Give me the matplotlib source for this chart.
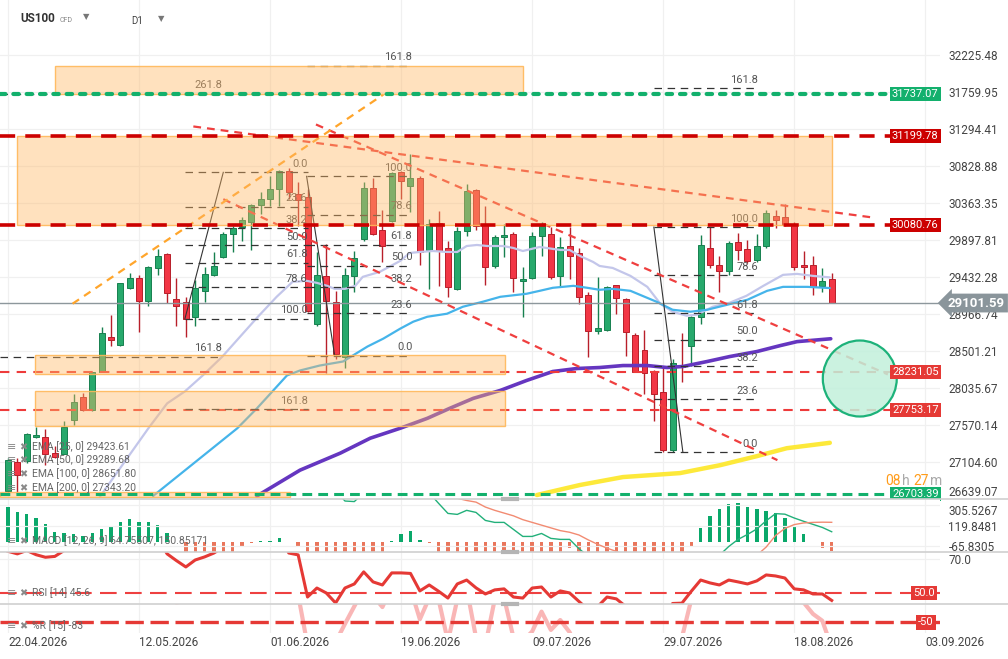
import numpy as np
import matplotlib
matplotlib.use("Agg")
import matplotlib.pyplot as plt
import matplotlib.transforms as mtransforms
from matplotlib.patches import Rectangle, Ellipse
from matplotlib.lines import Line2D

plt.rcParams['font.family'] = ['Roboto', 'DejaVu Sans']

# ---------------- data ----------------
date_labels = ['22.04.2026', '12.05.2026', '01.06.2026', '19.06.2026',
               '09.07.2026', '29.07.2026', '18.08.2026', '03.09.2026']
date_pos = [0, 14, 28, 42, 56, 70, 84, 98]

open_ = [26737, 27100, 27113, 27413, 27413, 27213, 27200, 27626, 27914, 27752,
         28240, 28679, 28579, 29293, 29418, 29130, 29543, 29719, 29155, 29117,
         28929, 29255, 29456, 29681, 29969, 30057, 30120, 30333, 30408, 30533,
         30759, 30471, 30433, 28842, 29443, 29117, 28428, 29443, 29907, 30546,
         30020, 30132, 30746, 30571, 30671, 29769, 30107, 29794, 29280, 30007,
         30521, 30095, 29568, 29932, 29969, 29381, 29418, 29944, 29969, 29443,
         29819, 29731, 29205, 28754, 28767, 29330, 29155, 28704, 28516, 28228,
         27977, 27250, 28328, 28566, 28929, 29794, 29581, 29506, 29869, 29781,
         29644, 29819, 30195, 30182, 30082, 29581, 29581, 29318, 29406]
high = [27150, 27150, 27463, 27539, 27514, 27301, 27614, 27952, 27965, 28240,
        28804, 28955, 29355, 29481, 29456, 29568, 29781, 29731, 29418, 29180,
        29393, 29556, 29744, 29994, 30070, 30182, 30345, 30496, 30696, 30771,
        30796, 30621, 30533, 29744, 29844, 29255, 29543, 29756, 30621, 30671,
        30270, 30746, 30759, 30972, 30696, 30157, 30258, 29882, 30057, 30596,
        30533, 30320, 29957, 30095, 29994, 29556, 29994, 30120, 30057, 29932,
        30057, 29794, 29243, 29431, 29318, 29330, 29168, 28729, 28767, 28253,
        28315, 28403, 28729, 28942, 29957, 30057, 29694, 29882, 29982, 29894,
        29969, 30270, 30270, 30345, 30120, 29756, 29694, 29543, 29481]
low = [26712, 26712, 27088, 27401, 27062, 27150, 27200, 27564, 27739, 27739,
       28228, 28566, 28566, 29280, 28741, 29067, 29456, 29105, 28817, 28679,
       28817, 29117, 29443, 29669, 29744, 29882, 29769, 30220, 30320, 30320,
       30408, 30070, 28992, 28817, 28215, 28403, 28278, 29243, 29882, 29957,
       29619, 30120, 30408, 30245, 29581, 29280, 29318, 29180, 29268, 29944,
       30020, 29330, 29543, 29681, 29243, 28929, 29406, 29694, 29406, 29318,
       29406, 29092, 28428, 28716, 28754, 28967, 28441, 28228, 27952, 27614,
       27225, 27225, 28102, 28315, 28842, 29543, 29243, 29456, 29644, 29606,
       29619, 29794, 30045, 30070, 29518, 29406, 29205, 29243, 29101.59]
close = [27125, 26937, 27451, 27438, 27200, 27163, 27539, 27852, 27752, 28228,
         28729, 28641, 29355, 29418, 29130, 29556, 29694, 29230, 29067, 28904,
         29293, 29468, 29568, 29969, 30045, 30145, 30333, 30408, 30533, 30759,
         30496, 30395, 29005, 29456, 29130, 28466, 29456, 29669, 30546, 29969,
         29819, 30734, 30634, 30671, 29744, 30095, 29756, 29305, 30007, 30508,
         30070, 29556, 29932, 29957, 29418, 29406, 29944, 30070, 29431, 29807,
         29694, 29180, 28754, 28792, 29305, 29168, 28741, 28240, 28215, 27952,
         27250, 28353, 28303, 28929, 29832, 29581, 29506, 29857, 29769, 29631,
         29819, 30233, 30145, 30082, 29556, 29556, 29305, 29381, 29101.59]

ema25_x = [9.8, 15.0, 17.0, 18.9, 20.8, 22.9, 24.8, 26.7, 28.7, 30.4,
           31.9, 33.0, 34.1, 34.9, 36.0, 37.1, 37.9, 39.7, 41.9, 42.9,
           44.0, 45.4, 46.9, 48.0, 49.0, 50.1, 51.2, 52.9, 54.0, 55.0,
           56.8, 59.0, 60.0, 61.1, 62.5, 63.2, 64.6, 66.5, 68.3, 69.7,
           71.0, 72.5, 73.6, 75.3, 77.1, 78.9, 80.7, 82.8, 84.3, 86.0, 87.8]
ema25_y = [26662, 27526, 27839, 27990, 28190, 28428, 28679, 28929, 29180, 29368,
           29381, 29355, 29318, 29280, 29280, 29318, 29431, 29493, 29631, 29731,
           29744, 29756, 29744, 29744, 29819, 29832, 29819, 29819, 29794, 29756,
           29807, 29769, 29769, 29694, 29619, 29568, 29543, 29443, 29305, 29092,
           28992, 28942, 28955, 29055, 29105, 29193, 29318, 29456, 29468, 29443, 29424]
ema50_x = [15.5, 24.5, 26.6, 29.8, 31.2, 33.3, 35.8, 38.4, 40.1, 41.9,
           43.3, 44.8, 46.9, 48.6, 50.7, 52.6, 55.4, 56.8, 58.2, 60.4,
           61.9, 63.2, 64.6, 66.5, 69.3, 71.0, 72.9, 74.7, 76.4, 79.0,
           81.1, 82.8, 85.4, 87.8]
ema50_y = [26674, 27526, 27777, 28190, 28253, 28315, 28366, 28554, 28654, 28779,
           28867, 28929, 28967, 29055, 29117, 29180, 29218, 29255, 29293, 29318,
           29293, 29268, 29280, 29255, 29117, 29017, 28992, 29017, 29067, 29143,
           29255, 29305, 29305, 29290]
ema100_x = [26.6, 31.2, 35.5, 38.7, 41.9, 44.8, 47.2, 49.7, 52.6, 55.4, 58.2, 60.8,
            63.2, 65.7, 68.3, 70.4, 72.1, 74.7, 77.1, 80.0, 82.5, 84.3, 86.8, 87.9]
ema100_y = [26674, 26999, 27213, 27401, 27526, 27651, 27777, 27902, 28002, 28127, 28240, 28278,
            28290, 28315, 28315, 28290, 28303, 28366, 28428, 28491, 28566, 28616, 28641, 28652]
ema200_x = [56.5, 61.1, 65.7, 71.8, 76.1, 80.0, 83.2, 87.8]
ema200_y = [26686, 26812, 26912, 26962, 27062, 27175, 27275, 27343]

macd_line = [820, 800, 790, 780, 760, 740, 730, 730, 740, 760,
             790, 820, 860, 900, 930, 950, 960, 950, 920, 880,
             850, 830, 820, 815, 810, 810, 815, 820, 830, 840,
             830, 800, 700, 620, 540, 440, 345, 340, 420, 450,
             470, 500, 520, 530, 470, 420, 324, 232, 223, 260,
             241, 168, 150, 150, 86, 22, 22, 49, 4, -5,
             -5, -90, -160, -220, -270, -320, -360, -400, -440, -470,
             -500, -460, -420, -390, -330, -230, -150, -70, -5, 40,
             90, 165, 230, 225, 190, 160, 132, 104, 64.76]
macd_signal = [500, 520, 540, 560, 590, 620, 640, 660, 680, 690,
               700, 710, 720, 730, 750, 770, 790, 800, 810, 820,
               830, 830, 830, 830, 830, 830, 830, 830, 830, 830,
               830, 825, 810, 790, 760, 720, 670, 620, 580, 550,
               520, 500, 480, 460, 440, 430, 410, 390, 370, 350,
               335, 290, 260, 235, 210, 175, 150, 125, 100, 75,
               60, 35, -10, -50, -85, -115, -150, -190, -230, -270,
               -310, -340, -350, -350, -340, -320, -290, -250, -210, -180,
               -150, -75, 30, 95, 130, 145, 150, 152, 150.85]
macd_hist = [317, 272, 253, 217, 162, 89, 80, 70, 52, 80,
             116, 134, 180, 208, 180, 180, 153, 80, -2, -150,
             -170, -190, -200, -180, -130, -48, -9, 2, 9, 34,
             -3, -48, -150, -220, -260, -280, -270, -240, -200, -160,
             -120, 9, 70, 98, 16, -12, -140, -180, -190, -185,
             -180, -170, -150, -140, -130, -140, -130, -110, -100, -90,
             -60, -120, -170, -200, -220, -230, -240, -250, -250, -240,
             -230, -180, -120, -46, 125, 235, 299, 345, 354, 317,
             299, 281, 263, 217, 134, 70, -3, -58, -86]
rsi = [74.5, 73, 75, 72.5, 71, 71.5, 75, 78, 76, 80,
       84, 80, 85, 84, 79, 82, 82, 73, 69, 65.3,
       69.4, 71.2, 73.5, 77, 78, 79, 81, 81, 82, 83,
       73.5, 72.4, 47.6, 52.9, 50, 44.1, 52.9, 55.3, 62.4, 56.5,
       54.7, 61.8, 61.8, 61.5, 51.2, 54.7, 51, 47, 55.3, 57.6,
       53, 49.4, 51.8, 52.4, 47.6, 47, 52.9, 53.5, 47.6, 51.2,
       50, 45, 40, 42, 47.6, 46.5, 42, 36, 34, 31,
       28, 43.8, 44, 51, 57.6, 55.9, 54.7, 57.6, 56.5, 55.3,
       57.1, 60.6, 60, 58.8, 52.4, 51.8, 49.4, 49.4, 45.6]
williams_r = [-10, -22, -8, -10, -20, -22, -12, -8, -15, -5,
              -6, -12, -3, -5, -18, -6, -5, -20, -24, -22,
              -14, -10, -8, -4, -5, -4, -3, -4, -5, -3,
              -12, -14, -80, -70, -72, -76, -52, -29, -6, -15,
              -30, -3, -8, -6, -46, -18, -20, -75, -20, -5,
              -70, -80, -20, -18, -70, -75, -62, -36, -60, -47,
              -63, -90, -100, -85, -78, -80, -95, -98, -95, -98,
              -100, -70, -70, -20, -5, -18, -22, -10, -12, -18,
              -10, -3, -5, -8, -22, -24, -39, -48, -83]

price_ticks = [32225.48, 31759.95, 31294.41, 30828.88, 30363.35, 29897.81, 29432.28,
               28966.74, 28501.21, 28035.67, 27570.14, 27104.60, 26639.07]
macd_ticks = [305.5267, 119.8481, -65.8305]

level_green_top = 31737.07
level_red_upper = 31199.78
level_red_lower = 30080.76
level_red_thin1 = 28231.05
level_red_thin2 = 27753.17
level_green_bottom = 26703.39
last_price = 29101.59

zone_x0 = [5.0, 0.96, 2.9, 2.9, -0.85]
zone_x1 = [55.0, 88.0, 53.1, 53.1, 30.1]
zone_lo = [31737.07, 30080.76, 28203, 27551, 26662]
zone_hi = [32087, 31199.78, 28453, 27990, 26724]

trend_x0 = [19.8, 32.9, 23.0]
trend_p0 = [31323, 31348, 30408]
trend_x1 = [92.1, 94.0, 82.2]
trend_p1 = [30182, 28203, 27125]
orange_x = [6.9, 40.1]
orange_p = [29093, 31724]

fib_ratios = [0.0, 23.6, 38.2, 50.0, 61.8, 78.6, 100.0, 161.8]
fib_start = [18.9, 31.9, 69.0]
fib_end = [32.0, 43.2, 80.1]
fib_p0 = [30750, 28441, 27225]
fib_p100 = [28904, 30696, 30057]
fib_anchor_x = [(18.9, 23.0), (31.9, 34.9), (69.0, 72.1)]
fib_anchor_p = [(28904, 30746), (30696, 28441), (30057, 27225)]
fib0_ratios = [161.8, 261.8]
fib0_levels = [28428, 31737]
fib0_end = 22.9

circle_center = (91.0, 28152)
circle_w, circle_h = 7.9, 956

# ---------------- figure ----------------
W, H = 1008, 659
fig = plt.figure(figsize=(W / 100, H / 100), dpi=100)
PLOT_W = 940


def rect(top, bottom):
    return [0, 1 - bottom / H, PLOT_W / W, (bottom - top) / H]


ax = fig.add_axes(rect(0, 499))
axm = fig.add_axes(rect(499, 552), sharex=ax)
axr = fig.add_axes(rect(552, 604), sharex=ax)
axw = fig.add_axes(rect(604, 633), sharex=ax)
axl = axm.twinx()

XMIN, XMAX = -0.855, 99.57
TXT = '#444444'
GRID = '#f0f0f0'

for a in (ax, axm, axr, axw, axl):
    for s in a.spines.values():
        s.set_visible(False)
    a.tick_params(axis='both', length=0, labelsize=8.5, colors=TXT)
    a.set_xlim(XMIN, XMAX)
for a in (ax, axm, axr, axw):
    a.set_xticks(date_pos)
    a.grid(True, axis='x', color=GRID, lw=0.9, zorder=0)
    a.set_axisbelow(True)
for a in (ax, axr, axw):
    a.yaxis.tick_right()
    a.tick_params(axis='y', pad=6)
axl.tick_params(axis='y', pad=6)
for a in (ax, axm, axr):
    a.tick_params(labelbottom=False)
axl.tick_params(labelbottom=False)

# ---- main panel ----
ax.set_ylim(26636, 32914)
ax.set_yticks(price_ticks)
ax.set_yticklabels([f'{v:.2f}' for v in price_ticks])
ax.get_yticklabels()[-1].set_verticalalignment('bottom')
ax.grid(True, axis='y', color=GRID, lw=0.9, zorder=0)

o = np.array(open_, float); h = np.array(high, float)
l = np.array(low, float); c = np.array(close, float)
idx = np.arange(len(c))
up = c >= o
GREEN, GREEN_E = '#27a96c', '#17804f'
RED, RED_E = '#f23645', '#b81f2a'
for mask, fcol, ecol in [(up, GREEN, GREEN_E), (~up, RED, RED_E)]:
    ax.vlines(idx[mask], l[mask], h[mask], color=ecol, lw=1.0, zorder=2)
    ax.bar(idx[mask], c[mask] - o[mask], bottom=o[mask], width=0.64,
           color=fcol, edgecolor=ecol, linewidth=0.7, zorder=3)

ax.plot(ema25_x, ema25_y, color='#c3c6ea', lw=1.6, zorder=4, solid_capstyle='round')
ax.plot(ema50_x, ema50_y, color='#45b4ea', lw=1.6, zorder=4, solid_capstyle='round')
ax.plot(ema100_x, ema100_y, color='#6536c0', lw=2.6, zorder=4, solid_capstyle='round')
ax.plot(ema200_x, ema200_y, color='#fde93a', lw=3.2, zorder=4, solid_capstyle='round')

ax.axhline(last_price, color='#8d979c', lw=1.0, zorder=4)
ax.axhline(level_red_thin1, color='#ee3b3b', lw=1.5, dashes=(4.5, 3.5), zorder=5)
ax.axhline(level_red_thin2, color='#ee3b3b', lw=1.5, dashes=(4.5, 3.5), zorder=5)

# fibonacci tools
for k in range(3):
    for r in fib_ratios:
        lv = fib_p0[k] + r / 100.0 * (fib_p100[k] - fib_p0[k])
        ax.plot([fib_start[k], fib_end[k]], [lv, lv], color='#333333', lw=0.9,
                dashes=(6, 4.5), zorder=5)
        ax.annotate(f'{r:.1f}', xy=(fib_end[k], lv), xytext=(0, 2.5),
                    textcoords='offset points', ha='right', va='bottom',
                    fontsize=8, color='#555555', zorder=5)
    ax.plot(fib_anchor_x[k], fib_anchor_p[k], color='#333333', lw=0.8, zorder=5)
for r, lv in zip(fib0_ratios, fib0_levels):
    ax.plot([XMIN, fib0_end], [lv, lv], color='#333333', lw=0.9, dashes=(6, 4.5), zorder=5)
    ax.annotate(f'{r:.1f}', xy=(fib0_end, lv), xytext=(0, 2.5),
                textcoords='offset points', ha='right', va='bottom',
                fontsize=8, color='#555555', zorder=5)

# trend lines
for x0, p0, x1, p1 in zip(trend_x0, trend_p0, trend_x1, trend_p1):
    ax.plot([x0, x1], [p0, p1], color='#ef3f3f', lw=1.6, dashes=(3.5, 2.7), zorder=5.5)
ax.plot(orange_x, orange_p, color='#ffa52b', lw=1.6, dashes=(3.5, 2.7), zorder=5.5)

# zones
for x0, x1, lo, hi in zip(zone_x0, zone_x1, zone_lo, zone_hi):
    ax.add_patch(Rectangle((x0, lo), x1 - x0, hi - lo, facecolor=(1.0, 0.72, 0.40, 0.42),
                           edgecolor=(1.0, 0.72, 0.35, 0.9), lw=1.0, zorder=6))

ax.add_patch(Ellipse(circle_center, circle_w, circle_h, facecolor=(0.76, 0.94, 0.86, 0.85),
                     edgecolor='#1db27a', lw=1.6, zorder=7))

ax.axhline(level_green_top, color='#12b06c', lw=3.0, dashes=(1.3, 1.9),
           dash_capstyle='round', zorder=8)
ax.axhline(level_red_upper, color='#cc0000', lw=2.6, dashes=(4.2, 2.8), zorder=8)
ax.axhline(level_red_lower, color='#cc0000', lw=2.6, dashes=(4.2, 2.8), zorder=8)
ax.axhline(level_green_bottom, color='#12b06c', lw=2.2, dashes=(3.2, 2.0), zorder=8)

blend = mtransforms.blended_transform_factory(ax.transAxes, ax.transData)
for lv, col in [(level_green_top, '#13b06d'), (level_red_upper, '#cc0000'),
                (level_red_lower, '#cc0000'), (level_red_thin1, '#e53935'),
                (level_red_thin2, '#e53935'), (level_green_bottom, '#13b06d')]:
    ax.text(892 / PLOT_W, lv, f'{lv:.2f}', transform=blend, ha='left', va='center',
            fontsize=8, color='white', zorder=10,
            bbox=dict(boxstyle='square,pad=0.18', fc=col, ec='none'))
ax.text(1 + 8 / PLOT_W, last_price, f'{last_price:.2f}', transform=blend, ha='left',
        va='center', fontsize=9.5, fontweight='bold', color='white', zorder=12, clip_on=False,
        bbox=dict(boxstyle='larrow,pad=0.22', fc='#8a959b', ec='none'))

# ---- MACD panel ----
axm.set_ylim(-94.2, 390.6)
axm.set_yticks([])
hist = np.array(macd_hist, float)
axm.bar(idx, hist, width=0.36, color=np.where(hist >= 0, '#0aa86a', '#e9765c'), zorder=2)
axl.set_ylim(-120.1, 363.5)
axl.set_yticks(macd_ticks)
axl.set_yticklabels([f'{v:.4f}' for v in macd_ticks])
axl.get_yticklabels()[0].set_verticalalignment('top')
axl.grid(True, axis='y', color=GRID, lw=0.9)
axl.plot(idx, macd_line, color='#22b07a', lw=1.0, zorder=3)
axl.plot(idx, macd_signal, color='#f28b72', lw=1.0, zorder=3)

# ---- RSI panel ----
axr.set_ylim(43.5, 74.1)
axr.set_yticks([70.0])
axr.set_yticklabels(['70.0'])
axr.grid(True, axis='y', color=GRID, lw=0.9)
axr.axhline(50, color='#ee4040', lw=1.5, dashes=(8, 4), zorder=2)
axr.plot(idx, rsi, color='#e53935', lw=2.2, zorder=3)
blr = mtransforms.blended_transform_factory(axr.transAxes, axr.transData)
axr.text(913 / PLOT_W, 50, '50.0', transform=blr, ha='left', va='center', fontsize=8,
         color='white', zorder=10, bbox=dict(boxstyle='square,pad=0.2', fc='#e53935', ec='none'))

# ---- Williams %R panel ----
axw.set_ylim(-64, -26)
axw.set_yticks([])
axw.axhline(-50, color='#e53935', lw=2.4, dashes=(5.5, 2.0), zorder=3)
axw.plot(idx, williams_r, color=(0.97, 0.62, 0.62, 0.75), lw=3.0, zorder=2)
blw = mtransforms.blended_transform_factory(axw.transAxes, axw.transData)
axw.text(918 / PLOT_W, -50, '-50', transform=blw, ha='left', va='center', fontsize=8,
         color='white', zorder=10, bbox=dict(boxstyle='square,pad=0.2', fc='#e53935', ec='none'))
axw.set_xticklabels(date_labels)
axw.tick_params(axis='x', pad=2, labelsize=8.5)
for lbl in axw.get_xticklabels():
    lbl.set_horizontalalignment('left')

# ---- separators ----
for yy in (499, 552, 604):
    fig.add_artist(Line2D([0, 1], [1 - yy / H] * 2, transform=fig.transFigure,
                          color='#d0d0d0', lw=1.2))
    fig.add_artist(Line2D([503 / W, 517 / W], [1 - yy / H] * 2, transform=fig.transFigure,
                          color='#b5b5b5', lw=3))


def ftext(x, y, s, **kw):
    fig.text(x / W, 1 - y / H, s, **kw)


# header
ftext(20, 19, 'US100', fontsize=8.5, fontweight='bold', color='#333333', va='center')
ftext(60, 20, 'CFD', fontsize=5, color='#888888', va='center')
ftext(83, 17, '▼', fontsize=6, color='#777777', va='center')
ftext(131, 21, 'D1', fontsize=7, color='#444444', va='center')
ftext(158, 19, '▼', fontsize=6, color='#777777', va='center')

# indicator legends
legend_rows = [(447, 'EMA [25, 0] 29423.61'), (460, 'EMA [50, 0] 29289.68'),
               (474, 'EMA [100, 0] 28651.80'), (488, 'EMA [200, 0] 27343.20'),
               (541, 'MACD [12, 26, 9] 64.75507, 150.85171'), (593, 'RSI [14] 45.6'),
               (626, '%R [15] -83')]
for yy, s in legend_rows:
    ftext(7, yy, '≡', fontsize=8, color='#8a8a8a', va='center')
    ftext(19, yy, '✖', fontsize=7, color='#8a8a8a', va='center')
    ftext(32, yy, s, fontsize=7.5, color='#666666', va='center')

# countdown
ftext(885, 481, '08', fontsize=10, color='#ff9c1a', va='center')
ftext(902, 481, 'h', fontsize=10, color='#aaaaaa', va='center')
ftext(913, 481, '27', fontsize=10, color='#ff9c1a', va='center')
ftext(930, 481, 'm', fontsize=10, color='#aaaaaa', va='center')

fig.savefig('out.png', dpi=100)
